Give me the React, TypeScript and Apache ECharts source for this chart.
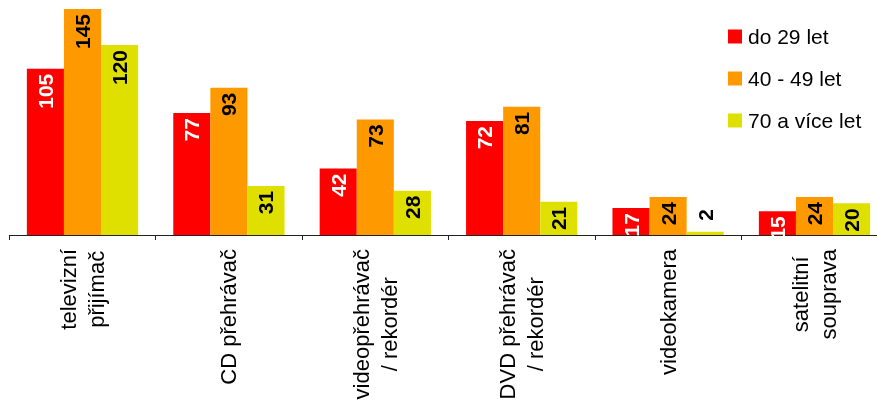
import React, { useEffect, useRef } from "react";
import * as echarts from "echarts";

const categories = [
  "televizní\npřijímač",
  "CD přehrávač",
  "videopřehrávač\n/ rekordér",
  "DVD přehrávač\n/ rekordér",
  "videokamera",
  "satelitní\nsouprava",
];
const seriesNames = ["do 29 let", "40 - 49 let", "70 a více let"];
const young = [105, 77, 42, 72, 17, 15];
const middle = [145, 93, 73, 81, 24, 24];
const old = [120, 31, 28, 21, 2, 20];
const colors = ["#FF0000", "#FF9900", "#E0E000"];
const labelColors = ["#FFFFFF", "#000000", "#000000"];

const FONT = "'Liberation Sans', Arial, Helvetica, sans-serif";

export default function App() {
  const ref = useRef<HTMLDivElement>(null);
  useEffect(() => {
    if (!ref.current) return;
    const chart = echarts.init(ref.current, undefined, { renderer: "svg" });
    const all = [young, middle, old];
    const series = all.map((vals, si) => ({
      name: seriesNames[si],
      type: "bar",
      barGap: "0%",
      barCategoryGap: "24%",
      clip: true,
      itemStyle: { color: colors[si] },
      data: vals.map((v) => {
        const small = v < 8;
        return {
          value: v,
          label: small
            ? {
                show: true,
                position: "top",
                rotate: 90,
                align: "left",
                verticalAlign: "middle",
                distance: 11,
                color: "#000000",
              }
            : undefined,
        };
      }),
      label: {
        show: true,
        position: "insideTop",
        rotate: 90,
        align: "right",
        verticalAlign: "middle",
        distance: 5,
        color: labelColors[si],
        fontWeight: "bold",
        fontSize: 21,
        fontFamily: FONT,
      },
    }));
    chart.setOption({
      animation: false,
      textStyle: { fontFamily: FONT },
      legend: {
        orient: "vertical",
        left: 728,
        top: 26,
        padding: 0,
        icon: "rect",
        itemWidth: 14,
        itemHeight: 14,
        itemGap: 21,
        data: seriesNames,
        textStyle: { fontSize: 21, fontFamily: FONT, color: "#000", padding: [0, 0, 0, 1] },
      },
      grid: { left: 9.3, top: 9, width: 878.4, height: 226, containLabel: false },
      xAxis: {
        type: "category",
        data: categories,
        axisLine: { show: true, lineStyle: { color: "#222", width: 1 } },
        axisTick: { show: true, length: 5, lineStyle: { color: "#222" } },
        axisLabel: {
          interval: 0,
          rotate: 90,
          margin: 14,
          formatter: (value: string) =>
            value
              .split("\n")
              .map((l) => `{c|${l}}`)
              .join("\n"),
          rich: {
            c: {
              align: "center",
              fontSize: 22,
              fontFamily: FONT,
              color: "#000",
              lineHeight: 28,
            },
          },
        },
      },
      yAxis: {
        type: "value",
        min: 0,
        max: 142.7,
        show: false,
        splitLine: { show: false },
      },
      series,
    });
    return () => chart.dispose();
  }, []);
  return (
    <div
      ref={ref}
      style={{ position: "fixed", left: 0, top: 0, width: 900, height: 403 }}
    />
  );
}
